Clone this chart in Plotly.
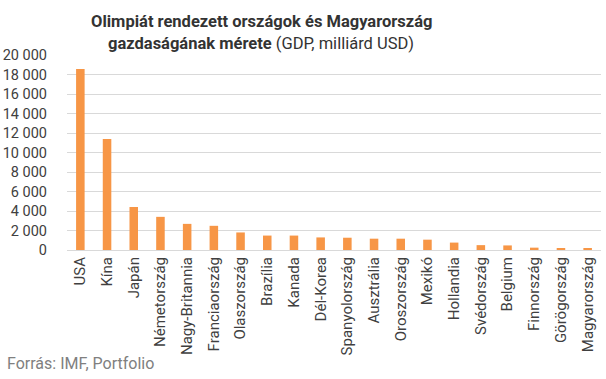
import plotly.graph_objects as go

countries = ["USA", "Kína", "Japán", "Németország", "Nagy-Britannia", "Franciaország",
             "Olaszország", "Brazília", "Kanada", "Dél-Korea", "Spanyolország", "Ausztrália",
             "Oroszország", "Mexikó", "Hollandia", "Svédország", "Belgium", "Finnország",
             "Görögország", "Magyarország"]
gdp = [18560, 11390, 4410, 3400, 2680, 2480, 1800, 1480, 1480, 1290, 1260, 1160,
       1160, 1060, 760, 500, 470, 240, 190, 120]
tick_vals = [0, 2000, 4000, 6000, 8000, 10000, 12000, 14000, 16000, 18000, 20000]
tick_text = ["0", "2 000", "4 000", "6 000", "8 000", "10 000", "12 000", "14 000",
             "16 000", "18 000", "20 000"]

fig = go.Figure(go.Bar(x=countries, y=gdp, marker=dict(color="#F79646", line=dict(width=0)),
                       hoverinfo="x+y"))

PLOT_W = 606 - 67 - 5
title_x = (261 - 67) / PLOT_W

fig.update_layout(
    width=606, height=379,
    margin=dict(l=67, r=5, t=55, b=129),
    paper_bgcolor="white", plot_bgcolor="white",
    font=dict(family="Roboto", color="#404040"),
    bargap=0.68,
    showlegend=False,
    xaxis=dict(tickangle=-90, tickfont=dict(size=15, color="#404040"), showgrid=False,
               showline=True, linecolor="#D9D9D9", linewidth=1, ticks="", ticklen=0,
               automargin=False),
    yaxis=dict(range=[0, 20000], tickvals=tick_vals, ticktext=tick_text,
               tickfont=dict(size=14.5, color="#404040"), gridcolor="#D9D9D9", gridwidth=1,
               zeroline=False, showline=False, ticks="", ticklabelstandoff=19,
               automargin=False),
    annotations=[
        dict(text="<b>Olimpiát rendezett országok és Magyarország</b>", xref="paper", yref="paper",
             x=title_x, y=1, xanchor="center", yanchor="middle", yshift=34, showarrow=False,
             font=dict(family="Roboto", size=16.5, color="#333333")),
        dict(text="<b>gazdaságának mérete</b> (GDP, milliárd USD)", xref="paper", yref="paper",
             x=title_x, y=1, xanchor="center", yanchor="middle", yshift=12, showarrow=False,
             font=dict(family="Roboto", size=16.5, color="#333333")),
        dict(text="Forrás: IMF, Portfolio", xref="paper", yref="paper",
             x=(5 - 67) / PLOT_W, y=0, xanchor="left", yanchor="middle",
             yshift=-113, showarrow=False,
             font=dict(family="Roboto", size=16, color="#808080")),
    ],
)

fig.write_html("out.html", config={"displayModeBar": False},
               post_script="document.body.style.margin='0';")
